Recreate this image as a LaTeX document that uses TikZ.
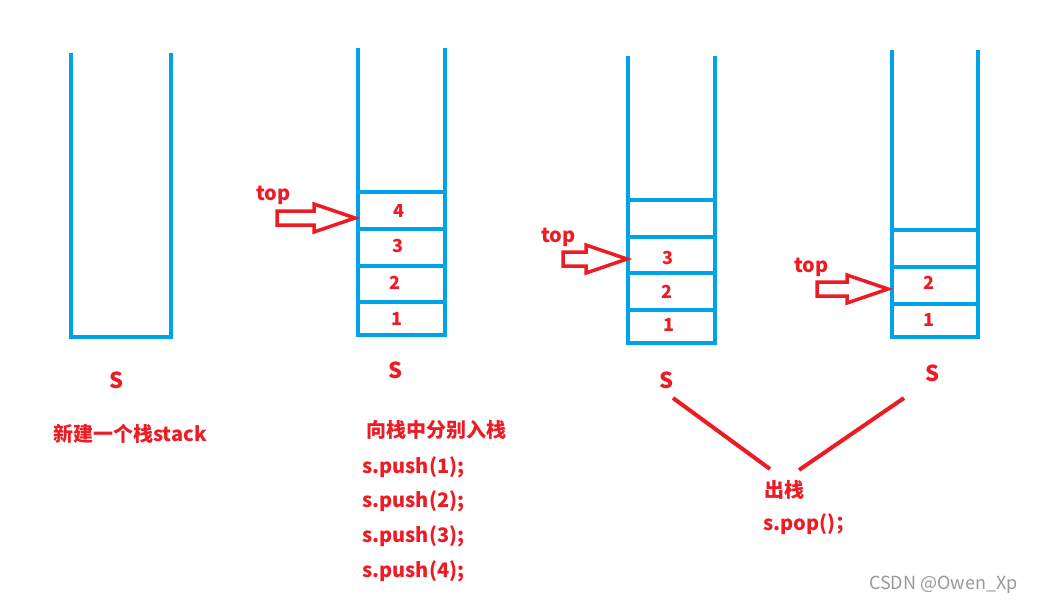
\documentclass[tikz,border=0pt]{standalone}
\usepackage{fontspec}
\setmainfont{Noto Sans CJK SC}
\usetikzlibrary{positioning}
\definecolor{stackblue}{RGB}{0,162,232}
\definecolor{inkred}{RGB}{237,28,36}

% hollow block arrow: tip at (#1,#2)
\newcommand{\toparrow}[3]{%
  \draw[arrowline] (#1-#3,#2-7) -- (#1-41,#2-7) -- (#1-41,#2-14) -- (#1,#2)
    -- (#1-41,#2+14) -- (#1-41,#2+7) -- (#1-#3,#2+7) -- cycle;}

\begin{document}
\begin{tikzpicture}[x=1pt,y=-1pt]
  \tikzstyle{wall}=[stackblue,line width=4pt]
  \tikzstyle{arrowline}=[inkred,line width=3.5pt,line join=miter]
  \tikzstyle{txt}=[text=inkred,font=\bfseries\fontsize{20}{23}\selectfont,inner sep=0pt,anchor=west]
  \tikzstyle{num}=[text=inkred,font=\bfseries\fontsize{18}{20}\selectfont,inner sep=0pt]
  \tikzstyle{label}=[text=inkred,font=\bfseries\fontsize{22}{24}\selectfont,inner sep=0pt]
  \useasboundingbox[fill=white] (0,0) rectangle (1040,606);

  % empty stack
  \draw[wall] (71,53) -- (71,337) -- (171,337) -- (171,53);
  \node[label] (S_1) at (117,380) {S};
  \node[txt] (new) at (53,434) {新建一个栈stack};

  % after four pushes
  \draw[wall] (358,48) -- (358,335) -- (445,335) -- (445,48);
  \foreach \y in {192,229,266,302}
    \draw[wall] (358,\y) -- (445,\y);
  \node[num] (c_4) at (399,211) {4};
  \node[num] (c_3) at (398,246) {3};
  \node[num] (c_2) at (395,283) {2};
  \node[num] (c_1) at (397,319) {1};
  \node[txt] (top_1) at (256,195) {top};
  \toparrow{355}{218}{78}
  \node[label] (S_2) at (396,370) {S};
  \node[txt] (push) at (366,430) {向栈中分别入栈};
  \node[txt] (push_1) at (362,467) {s.push(1);};
  \node[txt] (push_2) at (362,501) {s.push(2);};
  \node[txt] (push_3) at (362,536) {s.push(3);};
  \node[txt] (push_4) at (362,571) {s.push(4);};

  % after one pop
  \draw[wall] (628,56) -- (628,343) -- (715,343) -- (715,56);
  \foreach \y in {200,237,273,310}
    \draw[wall] (628,\y) -- (715,\y);
  \node[num] (d_3) at (668,258) {3};
  \node[num] (d_2) at (667,292) {2};
  \node[num] (d_1) at (669,325) {1};
  \node[txt] (top_2) at (541,237) {top};
  \toparrow{627}{259}{64}
  \node[label] (S_3) at (667,380) {S};

  % after two pops
  \draw[wall] (892,50) -- (892,337) -- (978,337) -- (978,50);
  \foreach \y in {230,267,304}
    \draw[wall] (892,\y) -- (978,\y);
  \node[num] (e_2) at (929,283) {2};
  \node[num] (e_1) at (929,320) {1};
  \node[txt] (top_3) at (794,267) {top};
  \toparrow{888}{289}{71}
  \node[label] (S_4) at (933,373) {S};

  \node[txt] (pop) at (764,490) {出栈};
  \node[txt] (pop_c) at (763,524) {s.pop()；};
  \coordinate (l_1) at (673,398);
  \coordinate (l_2) at (904,398);
  \coordinate (m_1) at (770,469);
  \coordinate (m_2) at (799,470);
  \draw[inkred,line width=4pt] (l_1) -- (m_1);
  \draw[inkred,line width=4pt] (l_2) -- (m_2);

  \node[text=black!40,font=\fontsize{18}{20}\selectfont,inner sep=0pt,anchor=west] (mark) at (869,585) {CSDN @Owen\_Xp};
\end{tikzpicture}
\end{document}
